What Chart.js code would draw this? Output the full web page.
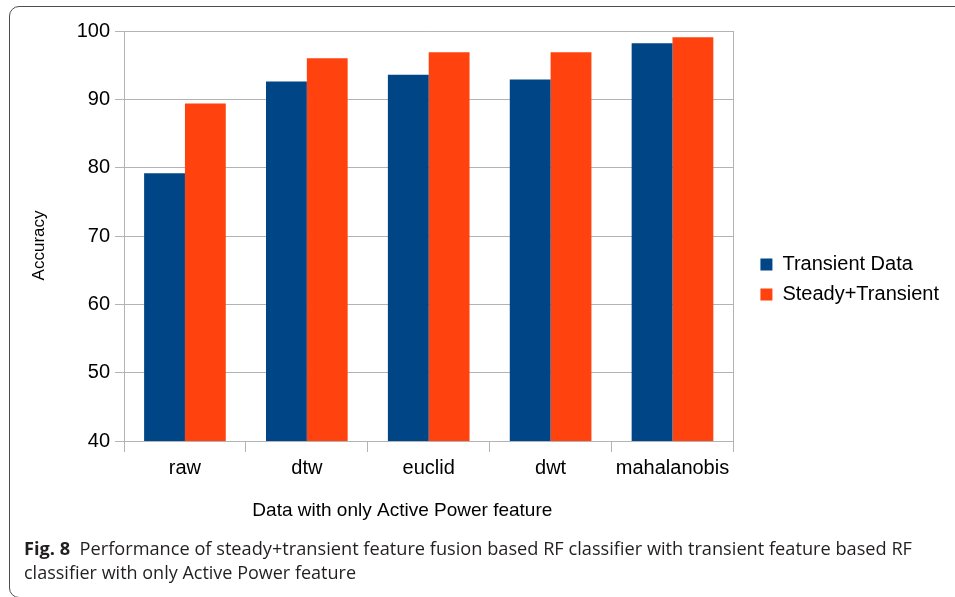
<!DOCTYPE html>
<html>
<head>
<meta charset="utf-8">
<script src="https://cdn.jsdelivr.net/npm/chart.js@4/dist/chart.umd.min.js"></script>
<style>
  html, body { margin: 0; padding: 0; background: #fff; }
  body { width: 955px; height: 597px; position: relative; overflow: hidden; }
  #frame { position: absolute; left: 9px; top: 6px; width: 975px; height: 592px;
           border: 1.5px solid #4d4d4d; border-radius: 10px; box-sizing: border-box; }
  #chart { position: absolute; left: 0; top: 0; }
  .cap { position: absolute; left: 24px; font-family: "Open Sans", sans-serif; font-size: 18px;
         color: #231f20; white-space: nowrap; transform-origin: 0 50%; line-height: 24px; }
  .cap b { font-weight: 700; }
</style>
</head>
<body>
<div id="frame"></div>
<canvas id="chart" width="955" height="597"></canvas>
<div class="cap" id="cap1" style="top:536px"><b>Fig. 8</b>&nbsp; Performance of steady+transient feature fusion based RF classifier with transient feature based RF</div>
<div class="cap" id="cap2" style="top:560px">classifier with only Active Power feature</div>
<script>
// Accuracy of the two RF classifiers per distance / transform method
const categories = ['raw', 'dtw', 'euclid', 'dwt', 'mahalanobis'];
const transientData = [79.2, 92.6, 93.6, 92.9, 98.2];
const steadyTransient = [89.4, 96.0, 96.9, 96.9, 99.1];
const seriesNames = ['Transient Data', 'Steady+Transient'];
const xTitle = 'Data with only Active Power feature';
const yTitle = 'Accuracy';
const yMin = 40, yMax = 100, yStep = 10;

const gridGray = '#b3b3b3';
const labelFont = { family: '"Liberation Sans", Arial, sans-serif', size: 20 };
// trailing no-break spaces nudge a centred axis title off the plot centre
const pad = n => '\u00a0'.repeat(n);

new Chart(document.getElementById('chart'), {
  type: 'bar',
  data: {
    labels: categories,
    datasets: [
      { label: seriesNames[0], data: transientData, backgroundColor: '#004586', borderWidth: 0 },
      { label: seriesNames[1], data: steadyTransient, backgroundColor: '#ff420e', borderWidth: 0 }
    ]
  },
  options: {
    responsive: false,
    animation: false,
    devicePixelRatio: 1,
    categoryPercentage: 0.67,
    barPercentage: 1.0,
    layout: { padding: { left: 20, top: 31, right: 6, bottom: 69 } },
    plugins: {
      legend: {
        position: 'right',
        align: 'center',
        maxWidth: 300,
        labels: { boxWidth: 12, boxHeight: 12, padding: 10, font: labelFont, color: '#000' }
      },
      tooltip: { enabled: false }
    },
    scales: {
      x: {
        grid: { offset: true, drawOnChartArea: false, drawTicks: true, tickLength: 11, color: gridGray },
        border: { color: gridGray },
        ticks: { font: labelFont, color: '#000', padding: 4, maxRotation: 0 },
        title: { display: true, text: xTitle + pad(10),
                 font: { family: labelFont.family, size: 19 }, color: '#000', padding: { top: 4, bottom: 6 } },
        afterFit(s) { s.height = 87; }
      },
      y: {
        min: yMin, max: yMax,
        ticks: { stepSize: yStep, padding: 5, font: labelFont, color: '#000' },
        grid: { color: gridGray, tickLength: 9 },
        border: { color: gridGray },
        title: { display: true, text: yTitle + pad(4),
                 font: { family: labelFont.family, size: 17 }, color: '#000', padding: { top: 9, bottom: 0 } },
        afterFit(s) { s.width = 104; }
      },
      // right-hand frame edge of the plot, plus the gap before the legend
      y2: {
        position: 'right',
        min: yMin, max: yMax,
        ticks: { display: false },
        grid: { display: false },
        border: { display: true, color: gridGray },
        afterFit(s) { s.width = 17; }
      }
    }
  }
});

// Fit the caption lines to their set widths
function fitCaption(id, target) {
  const el = document.getElementById(id);
  el.style.transform = 'none';
  const w = el.getBoundingClientRect().width;
  el.style.transform = 'scaleX(' + (target / w) + ')';
}
fitCaption('cap1', 888);
fitCaption('cap2', 332);
</script>
</body>
</html>
